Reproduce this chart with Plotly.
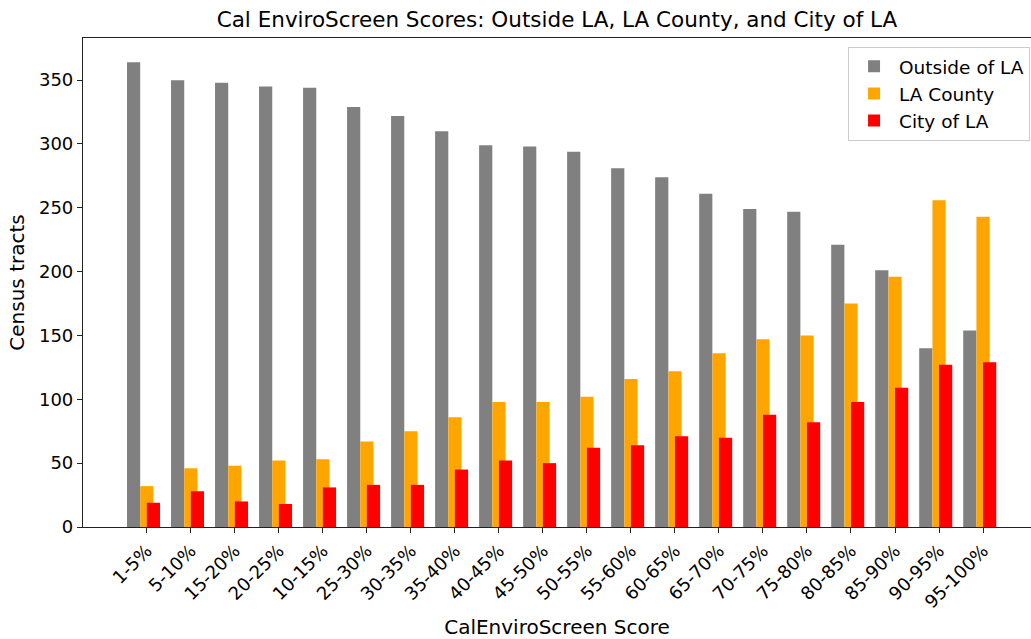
import plotly.graph_objects as go

categories = ["1-5%", "5-10%", "15-20%", "20-25%", "10-15%", "25-30%", "30-35%",
              "35-40%", "40-45%", "45-50%", "50-55%", "55-60%", "60-65%", "65-70%",
              "70-75%", "75-80%", "80-85%", "85-90%", "90-95%", "95-100%"]
outside_la = [364, 350, 348, 345, 344, 329, 322, 310, 299, 298, 294, 281, 274, 261,
              249, 247, 221, 201, 140, 154]
la_county = [32, 46, 48, 52, 53, 67, 75, 86, 98, 98, 102, 116, 122, 136, 147, 150,
             175, 196, 256, 243]
city_of_la = [19, 28, 20, 18, 31, 33, 33, 45, 52, 50, 62, 64, 71, 70, 88, 82, 98,
              109, 127, 129]
y_ticks = [0, 50, 100, 150, 200, 250, 300, 350]

FONT = "DejaVu Sans"
W = 0.3

fig = go.Figure()
fig.add_trace(go.Bar(x=categories, y=outside_la, name="Outside of LA",
                     marker=dict(color="#808080", line=dict(width=0)),
                     width=W, offset=-1.5 * W))
fig.add_trace(go.Bar(x=categories, y=la_county, name="LA County",
                     marker=dict(color="#FFA500", line=dict(width=0)),
                     width=W, offset=-0.5 * W))
fig.add_trace(go.Bar(x=categories, y=city_of_la, name="City of LA",
                     marker=dict(color="#FF0000", line=dict(width=0)),
                     width=W, offset=0))

fig.update_layout(
    width=1031, height=639,
    margin=dict(l=83, r=0, t=38, b=112, autoexpand=False),
    paper_bgcolor="white", plot_bgcolor="white",
    barmode="overlay",
    font=dict(family=FONT, size=18, color="black"),
    title=dict(text="Cal EnviroScreen Scores: Outside LA, LA County, and City of LA",
               x=(83 + 1031) / 2 / 1031, xanchor="center", y=1 - 19 / 639, yanchor="middle",
               font=dict(family=FONT, size=21.5, color="black")),
    showlegend=True,
    legend=dict(x=0.999, xanchor="right", y=0.982, yanchor="top",
                bgcolor="rgba(255,255,255,0.8)", bordercolor="#cccccc", borderwidth=1,
                font=dict(family=FONT, size=18.5, color="black"),
                tracegroupgap=0, itemwidth=40),
    xaxis=dict(type="category", range=[-1.45, 20.09], showgrid=False, zeroline=False,
               showline=True, linecolor="#222222", linewidth=1.2, mirror=True,
               ticks="outside", ticklen=5, tickcolor="#222222", tickangle=-45,
               tickfont=dict(family=FONT, size=18, color="black"),
               title=dict(text="CalEnviroScreen Score", standoff=8,
                          font=dict(family=FONT, size=20, color="black"))),
    yaxis=dict(range=[0, 383], showgrid=False, zeroline=False,
               showline=True, linecolor="#222222", linewidth=1.2,
               ticks="outside", ticklen=5, tickcolor="#222222",
               tickvals=y_ticks,
               tickfont=dict(family=FONT, size=18, color="black"),
               title=dict(text="Census tracts", standoff=8,
                          font=dict(family=FONT, size=20, color="black"))),
)

fig.write_html("out.html",
               config={"displayModeBar": False},
               post_script="document.body.style.margin='0';document.body.style.overflow='hidden';")
